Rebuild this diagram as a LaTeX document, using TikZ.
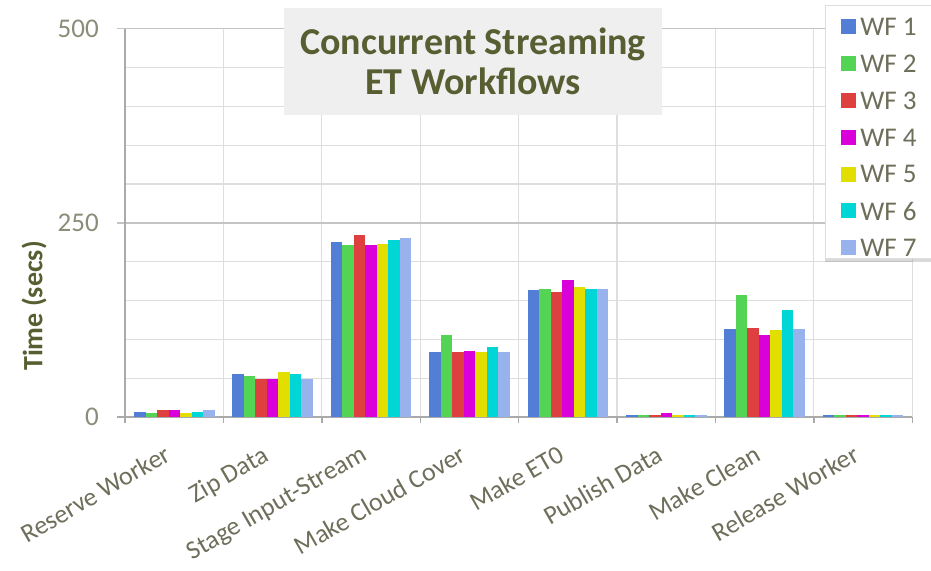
\documentclass[tikz,border=0pt]{standalone}
\usepackage{fontspec}
\setmainfont{Carlito}
\usetikzlibrary{shadows}

\definecolor{wf1}{RGB}{82,126,214}
\definecolor{wf2}{RGB}{84,212,84}
\definecolor{wf3}{RGB}{222,64,64}
\definecolor{wf4}{RGB}{218,0,218}
\definecolor{wf5}{RGB}{226,222,0}
\definecolor{wf6}{RGB}{0,214,214}
\definecolor{wf7}{RGB}{152,178,238}
\definecolor{olive}{RGB}{88,94,50}
\definecolor{ticktext}{RGB}{140,140,122}
\definecolor{cattext}{RGB}{110,110,90}
\definecolor{gridgray}{RGB}{222,222,222}
\definecolor{majorgray}{RGB}{196,196,196}
\definecolor{axisgray}{RGB}{170,170,170}
\definecolor{titlegray}{RGB}{239,239,239}

\begin{document}
\begin{tikzpicture}[x=1pt, y=1pt,
    gridline/.style={draw=gridgray, line width=1.2pt},
    majorline/.style={draw=majorgray, line width=1.3pt},
    axisline/.style={draw=axisgray, line width=1.4pt},
    ticklabel/.style={anchor=east, text=ticktext, inner sep=0pt,
                      font=\fontsize{27}{30}\selectfont},
    catlabel/.style={anchor=north east, rotate=30, text=cattext, inner sep=0pt,
                     font=\fontsize{26}{28}\selectfont},
    legendtext/.style={anchor=west, text=cattext, inner sep=0pt,
                       font=\fontsize{27}{30}\selectfont},
    swatch/.style={minimum size=15pt, inner sep=0pt}]
    \def\catW{98.4}
    \def\barW{11.5}
    \def\barGap{9}
    \def\secs{0.7764}
    \useasboundingbox (-125,-153) rectangle (806,417);

    % grid: a line every 50 secs, one column per task
    \foreach \t in {50,100,...,450}
      \draw[gridline] (0,\t*\secs) -- (8*\catW,\t*\secs);
    \foreach \c in {1,...,8}
      \draw[gridline] (\c*\catW,0) -- (\c*\catW,500*\secs);
    \foreach \t in {250,500}
      \draw[majorline] (-8,\t*\secs) -- (8*\catW,\t*\secs);
    \foreach \c in {1,...,8}
      \draw[axisline] (\c*\catW,0) -- (\c*\catW,-6);
    \draw[axisline] (-8,0) -- (8*\catW,0);
    \draw[axisline] (0,-6) -- (0,500*\secs);

    \foreach \t in {0,250,500}
      \node[ticklabel] (tick\t) at (-26,\t*\secs) {\t};

    % bars, one group of seven workflows per task
    \foreach \vals [count=\c from 0] in {
        {7,5,9.5,9.5,5,6.5,9},
        {56,53,49,49,58,56,49},
        {226,222,234,221,223,228.5,231},
        {83.5,106,83.5,85.5,83.5,90.5,83.5},
        {163,165,161,176,167,165,165},
        {3,3,3,5.5,3,3,3},
        {113.5,157.5,115,106,112.5,137.5,113.5},
        {3,3,3,3,3,3,3}} {
      \foreach \v [count=\w] in \vals
        \fill[wf\w] ({\c*\catW+\barGap+(\w-1)*\barW},0) rectangle ++(\barW,\v*\secs);
    }

    \foreach \name [count=\c] in {Reserve Worker, Zip Data, Stage Input-Stream,
        Make Cloud Cover, Make ET0, Publish Data, Make Clean, Release Worker}
      \node[catlabel] (cat\c) at ({(\c-0.5)*\catW-11},-27) {\name};

    \node[rotate=90, text=olive, font=\bfseries\fontsize{28}{30}\selectfont]
      (ylabel) at (-91,111) {Time (secs)};

    \node[fill=titlegray, minimum width=378pt, minimum height=107pt, align=center,
          text=olive, font=\bfseries\fontsize{38}{40}\selectfont]
      (title) at (348,355.5) {Concurrent Streaming\\ET Workflows};

    % legend box with its entries
    \node[draw=gridgray, fill=white, anchor=north west,
          minimum width=120pt, minimum height=253pt,
          drop shadow={shadow xshift=0pt, shadow yshift=-4pt, opacity=0.3}]
      (legend) at (700,412) {};
    \foreach \i in {1,...,7} {
      \node[swatch, fill=wf\i] (sw\i) at (723.5,{390-(\i-1)*36.8}) {};
      \node[legendtext] (lab\i) at ([xshift=4pt]sw\i.east) {WF \i};
    }
\end{tikzpicture}
\end{document}
